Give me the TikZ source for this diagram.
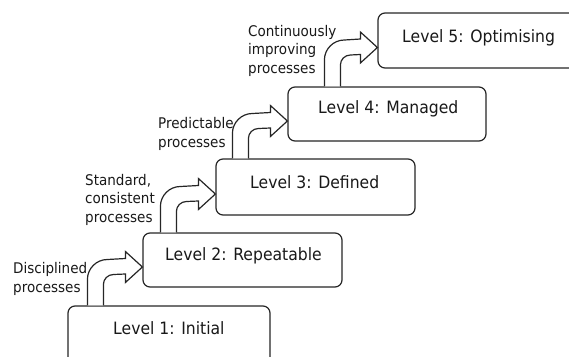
\documentclass[tikz,border=0pt]{standalone}
\usepackage{fontspec}
\setmainfont[FakeStretch=0.92]{DejaVu Sans}
\usetikzlibrary{calc}

\tikzset{
  levelbox/.style={draw=black!85, line width=1.2pt, rounded corners=7pt,
    inner sep=0pt, fill=white},
  leveltext/.style={anchor=base west, inner sep=0pt, text=black!90,
    font=\fontsize{17}{20}\selectfont},
  % multi-line labels are placed by the baseline of their last line
  steplabel/.style={anchor=base west, inner sep=0pt, align=left, text=black!90,
    font=\fontsize{14.7}{18.5}\selectfont},
  climb/.style={draw=black!85, line width=1.2pt, fill=white, line join=miter},
}

% Hollow bent arrow rising from the top of one level box into the side of the next.
% #1 lower box, #2 upper box, #3 offset of the shaft from the lower box's left side
\newcommand\climbarrow[3]{%
  \draw[climb] let \p1=($(#1.north west)+(#3,0)$), \p2=($(#2.west)+(0,7)$) in
    (\x1,\y1) -- (\x1,\y2-12.5pt)
    .. controls (\x1,\y2-1.5pt) and (\x1+9pt,\y2+7.5pt) .. (\x1+20pt,\y2+7.5pt)
    -- (\x2-17pt,\y2+8.5pt) -- (\x2-17pt,\y2+15.5pt) -- (\x2,\y2)
    -- (\x2-17pt,\y2-15.5pt) -- (\x2-17pt,\y2-7pt)
    -- (\x1+26pt,\y2-7.5pt)
    .. controls (\x1+20.5pt,\y2-7.5pt) and (\x1+16pt,\y2-12pt) .. (\x1+16pt,\y2-17.5pt)
    -- (\x1+16pt,\y1);
}

\begin{document}
\begin{tikzpicture}[x=1pt, y=-1pt]
  \useasboundingbox (0,0) rectangle (569,356);
  \clip (0,0) rectangle (569,356);

  % level boxes
  \node[levelbox, minimum width=202pt, minimum height=66pt] (b1) at (169,339) {};
  \node[levelbox, minimum width=199pt, minimum height=54pt] (b2) at (242.5,260) {};
  \node[levelbox, minimum width=199pt, minimum height=56pt] (b3) at (315.5,187) {};
  \node[levelbox, minimum width=198pt, minimum height=54pt] (b4) at (387,114) {};
  \node[levelbox, minimum width=232pt, minimum height=55pt] (b5) at (494,40.5) {};

  \node[leveltext] (t1) at (113,334) {Level 1: Initial};
  \node[leveltext] (t2) at (165,260) {Level 2: Repeatable};
  \node[leveltext] (t3) at (250,188) {Level 3: Defined};
  \node[leveltext] (t4) at (318,113) {Level 4: Managed};
  \node[leveltext] (t5) at (402,42) {Level 5: Optimising};

  % arrows between levels
  \climbarrow{b1}{b2}{20}
  \climbarrow{b2}{b3}{18}
  \climbarrow{b3}{b4}{17}
  \climbarrow{b4}{b5}{37}

  % arrow labels
  \node[steplabel] (l1) at (13,292) {Disciplined\\processes};
  \node[steplabel] (l2) at (85,222) {Standard,\\consistent\\processes};
  \node[steplabel] (l3) at (158,147) {Predictable\\processes};
  \node[steplabel] (l4) at (248,73) {Continuously\\improving\\processes};
\end{tikzpicture}
\end{document}
